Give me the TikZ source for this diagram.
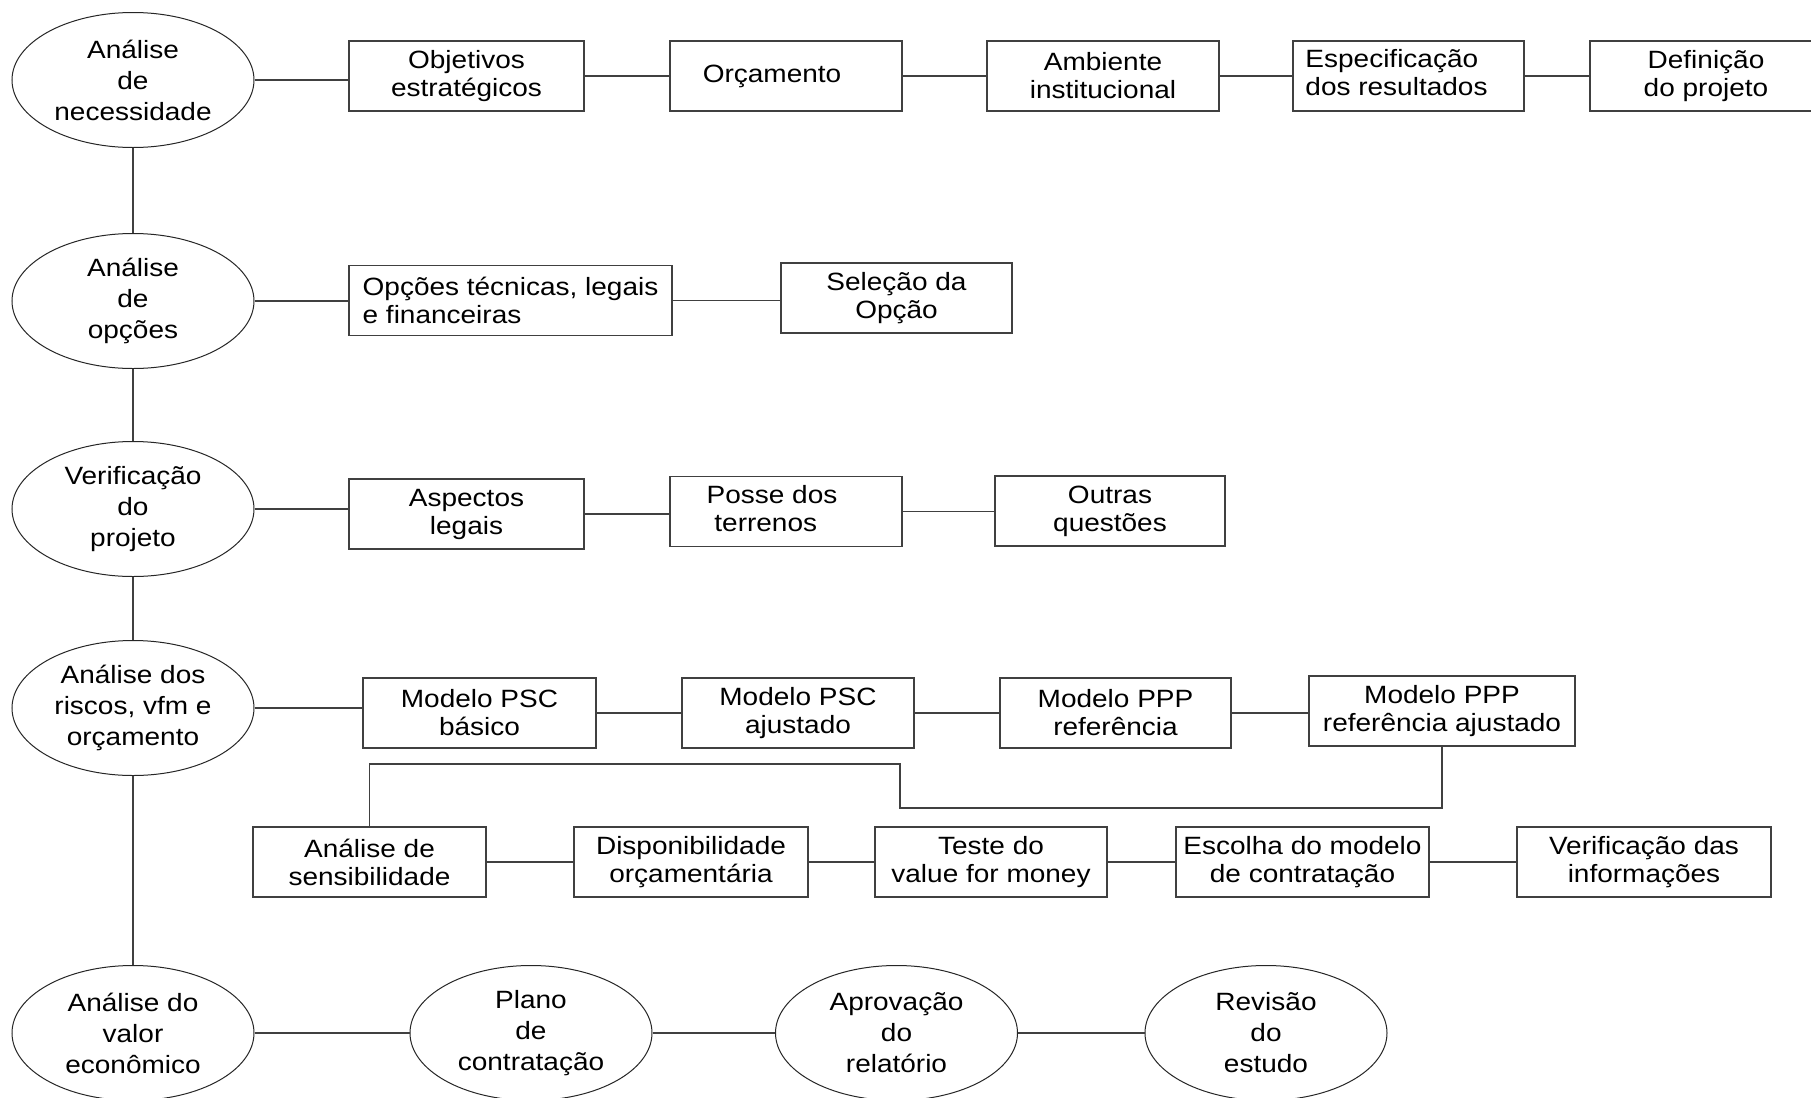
\documentclass[tikz,border=0pt]{standalone}
\usepackage{fontspec}
\setmainfont[FakeStretch=1.12]{Liberation Sans}
\usetikzlibrary{shapes.geometric}
\begin{document}
\begin{tikzpicture}[x=0.5pt,y=-0.5pt,
  box/.style={draw=black!75, line width=0.6pt, rectangle, inner sep=0pt, align=center,
    minimum height=35pt, font=\fontsize{12.5}{14}\selectfont},
  ell/.style={draw=black!85, line width=0.5pt, ellipse, inner sep=0pt, align=center,
    minimum width=121pt, minimum height=67.5pt, font=\fontsize{12.5}{15.5}\selectfont},
  ln/.style={draw=black!75, line width=0.6pt}]
\useasboundingbox (0,0) rectangle (1811,1098);
\fill[white] (0,0) rectangle (1811,1098);

% main column ellipses
\node[ell] (e1) at (133,80) {Análise\\de\\necessidade};
\node[ell] (e2) at (133,301) {Análise\\de\\opções};
\node[ell] (e3) at (133,509) {Verificação\\do\\projeto};
\node[ell] (e4) at (133,708) {Análise dos\\riscos, vfm e\\orçamento};
\node[ell] (e5) at (133,1033) {Análise do\\valor\\econômico};

% row 1
\node[box, minimum width=117.5pt] (obj) at (466.5,76) {Objetivos\\estratégicos};
\node[box, minimum width=116pt] (orc) at (786,76) {\hspace*{-14pt}Orçamento};
\node[box, minimum width=116pt] (amb) at (1103,76) {Ambiente\\institucional};
\node[box, minimum width=115.5pt] (esp) at (1408.5,76) {\raisebox{3pt}{\begin{tabular}{@{}l@{}}Especificação\\dos resultados\end{tabular}}\hspace*{12pt}};
\node[box, minimum width=116pt] (def) at (1706,76) {Definição\\do projeto};

% row 2
\node[box, minimum width=161.5pt, align=left] (opc) at (510.5,300.5) {Opções técnicas, legais\\e financeiras};
\node[box, minimum width=115.5pt] (sel) at (896.5,298) {Seleção da\\Opção};

% row 3
\node[box, minimum width=117.5pt] (asp) at (466.5,514) {Aspectos\\legais};
\node[box, minimum width=116pt] (pos) at (786,511.5) {\begin{tabular}{@{}l@{}}Posse dos\\\ terrenos\end{tabular}\hspace*{14pt}};
\node[box, minimum width=115pt] (out) at (1110,511) {Outras\\questões};

% row 4
\node[box, minimum width=116.5pt] (psc1) at (479.5,713) {Modelo PSC\\básico};
\node[box, minimum width=116pt] (psc2) at (798,713) {Modelo PSC\\ajustado};
\node[box, minimum width=115.5pt] (ppp1) at (1115.5,713) {Modelo PPP\\referência};
\node[box, minimum width=133pt] (ppp2) at (1442,711) {Modelo PPP\\referência ajustado};

% row 5
\node[box, minimum width=116.5pt] (sen) at (369.5,862) {Análise de\\sensibilidade};
\node[box, minimum width=117pt] (dis) at (691,862) {Disponibilidade\\orçamentária};
\node[box, minimum width=116pt] (tes) at (991,862) {Teste do\\value for money};
\node[box, minimum width=126.5pt] (esc) at (1302.5,862) {Escolha do modelo\\de contratação};
\node[box, minimum width=127pt] (ver) at (1644,862) {Verificação das\\informações};

% bottom row ellipses
\node[ell] (pla) at (531,1033) {Plano\\de\\contratação};
\node[ell] (apr) at (896.5,1033) {Aprovação\\do\\relatório};
\node[ell] (rev) at (1266,1033) {Revisão\\do\\estudo};

% vertical spine
\draw[ln] (e1.south) -- (e2.north);
\draw[ln] (e2.south) -- (e3.north);
\draw[ln] (e3.south) -- (e4.north);
\draw[ln] (e4.south) -- (e5.north);

% row connectors
\draw[ln] (e1.east) -- (e1.east -| obj.west);
\draw[ln] (obj.east) -- (obj.east -| orc.west);
\draw[ln] (orc.east) -- (orc.east -| amb.west);
\draw[ln] (amb.east) -- (amb.east -| esp.west);
\draw[ln] (esp.east) -- (esp.east -| def.west);

\draw[ln] (e2.east) -- (e2.east -| opc.west);
\draw[ln] (opc.east) -- (opc.east -| sel.west);

\draw[ln] (e3.east) -- (e3.east -| asp.west);
\draw[ln] (asp.east) -- (asp.east -| pos.west);
\draw[ln] (pos.east) -- (pos.east -| out.west);

\draw[ln] (e4.east) -- (e4.east -| psc1.west);
\draw[ln] (psc1.east) -- (psc1.east -| psc2.west);
\draw[ln] (psc2.east) -- (psc2.east -| ppp1.west);
\draw[ln] (ppp1.east) -- (ppp1.east -| ppp2.west);

\coordinate (k1) at (900,808);
\coordinate (k2) at (900,764);
\draw[ln] (ppp2.south) |- (k1) -- (k2) -| (sen.north);

\draw[ln] (sen.east) -- (sen.east -| dis.west);
\draw[ln] (dis.east) -- (dis.east -| tes.west);
\draw[ln] (tes.east) -- (tes.east -| esc.west);
\draw[ln] (esc.east) -- (esc.east -| ver.west);

\draw[ln] (e5.east) -- (pla.west);
\draw[ln] (pla.east) -- (apr.west);
\draw[ln] (apr.east) -- (rev.west);
\end{tikzpicture}
\end{document}
